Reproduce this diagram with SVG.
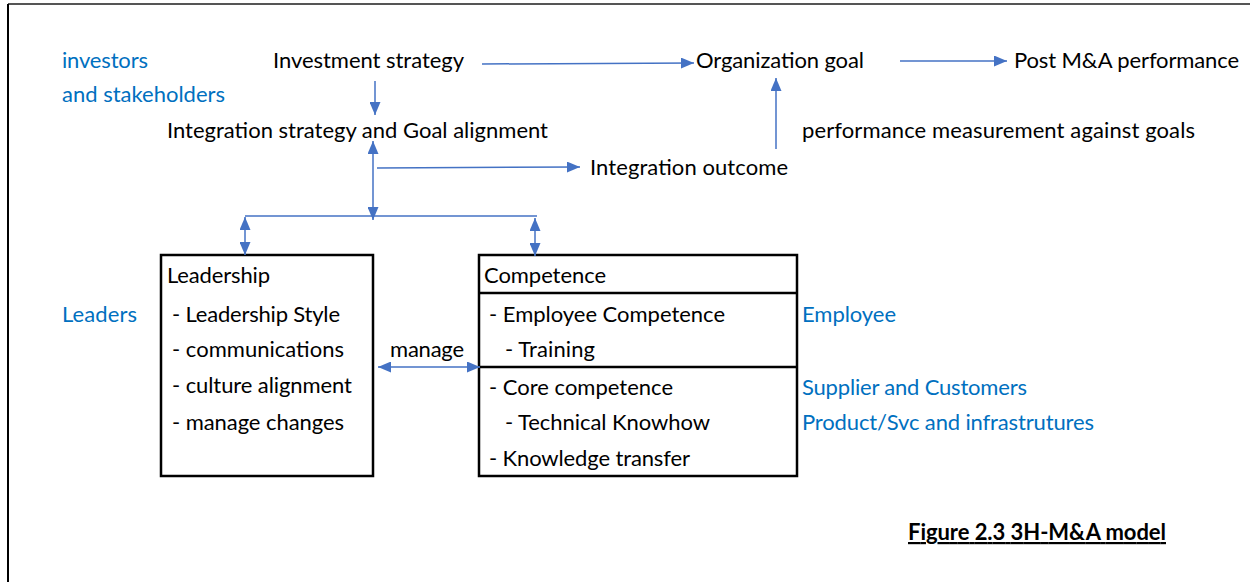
<svg xmlns="http://www.w3.org/2000/svg" width="1250" height="582" viewBox="0 0 1250 582">
  <defs>
    <marker id="head" viewBox="0 0 13 11" refX="13" refY="5.5" markerWidth="13" markerHeight="11" markerUnits="userSpaceOnUse" orient="auto-start-reverse">
      <path d="M0,0 L13,5.5 L0,11 z" fill="#4472C4"/>
    </marker>
    <style>
      text { font-family: Lato, "Open Sans", "Liberation Sans", sans-serif; font-size: 22px; fill: #000; }
      .blue { fill: #0070C0; }
      .cap { font-weight: bold; text-decoration: underline; }
      .box { fill: #fff; stroke: #000; stroke-width: 2.5; }
      .div { stroke: #000; stroke-width: 2.5; }
      .conn path { fill: none; stroke: #4472C4; stroke-width: 1.5; }
      .one { marker-end: url(#head); }
      .two { marker-start: url(#head); marker-end: url(#head); }
    </style>
  </defs>

  <rect width="1250" height="582" fill="#fff"/>

  <!-- page frame -->
  <line x1="8" y1="4" x2="1250" y2="4" stroke="#555" stroke-width="2"/>
  <line x1="8" y1="4" x2="8" y2="582" stroke="#000" stroke-width="2"/>

  <!-- side labels -->
  <g id="stakeholders">
    <text class="blue" x="62" y="68" textLength="86">investors</text>
    <text class="blue" x="62" y="102" textLength="163">and stakeholders</text>
  </g>
  <g id="leaders-label"><text class="blue" x="62" y="322" textLength="75">Leaders</text></g>
  <g id="employee-label"><text class="blue" x="802" y="322" textLength="94">Employee</text></g>
  <g id="supplier-label"><text class="blue" x="802" y="395" textLength="225">Supplier and Customers</text></g>
  <g id="product-label"><text class="blue" x="802" y="430" textLength="292">Product/Svc and infrastrutures</text></g>

  <!-- strategy chain -->
  <g id="investment-strategy"><text x="273" y="68" textLength="191">Investment strategy</text></g>
  <g id="organization-goal"><text x="696" y="68" textLength="168">Organization goal</text></g>
  <g id="post-ma"><text x="1014" y="68" textLength="225">Post M&amp;A performance</text></g>
  <g id="integration-strategy"><text x="167" y="138" textLength="381">Integration strategy and Goal alignment</text></g>
  <g id="performance-measurement"><text x="802" y="138" textLength="393">performance measurement against goals</text></g>
  <g id="integration-outcome"><text x="590" y="175" textLength="198">Integration outcome</text></g>

  <!-- Leadership box -->
  <g id="leadership">
    <rect class="box" x="161" y="255" width="212" height="221"/>
    <text x="167" y="283" textLength="103">Leadership</text>
    <text x="172" y="322" textLength="168">- Leadership Style</text>
    <text x="172" y="357" textLength="172">- communications</text>
    <text x="172" y="393" textLength="180">- culture alignment</text>
    <text x="172" y="430" textLength="172">- manage changes</text>
  </g>

  <!-- Competence box -->
  <g id="competence">
    <rect class="box" x="479" y="255" width="318" height="221"/>
    <line class="div" x1="479" y1="293" x2="797" y2="293"/>
    <line class="div" x1="479" y1="367" x2="797" y2="367"/>
    <text x="484" y="283" textLength="122">Competence</text>
    <text x="489" y="322" textLength="236">- Employee Competence</text>
    <text x="505" y="357" textLength="90">- Training</text>
    <text x="489" y="395" textLength="184">- Core competence</text>
    <text x="505" y="430" textLength="205">- Technical Knowhow</text>
    <text x="489" y="466" textLength="201">- Knowledge transfer</text>
  </g>

  <g id="manage-label"><text x="390" y="357" textLength="74">manage</text></g>

  <!-- connectors -->
  <g id="connectors" class="conn">
    <path class="one" d="M482,64 L694,63"/>
    <path class="one" d="M900,61 L1007,61"/>
    <path class="one" d="M375,81 L375,115"/>
    <path class="one" d="M776,149 L776,78"/>
    <path class="two" d="M373,141 L373,220"/>
    <path class="one" d="M377,168 L580,167"/>
    <path d="M245,216 L537,216"/>
    <path class="two" d="M245,217 L245,255"/>
    <path class="two" d="M535,218 L535,256"/>
    <path class="two" d="M378,367 L480,367"/>
  </g>

  <g id="caption"><text class="cap" x="908" y="540" textLength="258">Figure 2.3 3H-M&amp;A model</text></g>
</svg>
